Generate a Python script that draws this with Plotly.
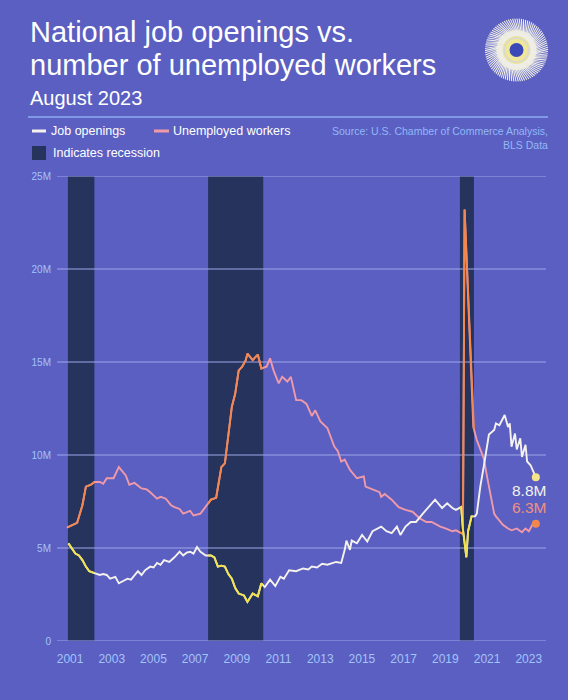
import numpy as np
import pandas as pd
import plotly.graph_objects as go

# ---------------- data ----------------
jo_dates = ["2001-03", "2001-05", "2001-07", "2001-09", "2001-11", "2002-01", "2002-03", "2002-06", "2002-09", "2002-11",
            "2003-01", "2003-03", "2003-06", "2003-08", "2003-10", "2004-01", "2004-03", "2004-05", "2004-07", "2004-09",
            "2004-11", "2005-02", "2005-04", "2005-06", "2005-08", "2005-10", "2006-01", "2006-04", "2006-07", "2006-09",
            "2006-11", "2007-01", "2007-03", "2007-05", "2007-07", "2007-10", "2008-01", "2008-03", "2008-05", "2008-07",
            "2008-09", "2008-11", "2009-01", "2009-03", "2009-05", "2009-08", "2009-10", "2010-01", "2010-04", "2010-06",
            "2010-08", "2010-11", "2011-02", "2011-05", "2011-07", "2011-10", "2012-02", "2012-06", "2012-09", "2012-11",
            "2013-02", "2013-05", "2013-08", "2014-01", "2014-04", "2014-06", "2014-07", "2014-09", "2014-10", "2015-01",
            "2015-04", "2015-07", "2015-10", "2016-03", "2016-06", "2016-09", "2016-12", "2017-02", "2017-05", "2017-08",
            "2017-11", "2018-03", "2018-07", "2018-10", "2019-02", "2019-05", "2019-08", "2019-10", "2020-01", "2020-02",
            "2020-04", "2020-05", "2020-07", "2020-09", "2020-10", "2020-12", "2021-02", "2021-04", "2021-05", "2021-08",
            "2021-09", "2021-11", "2022-02", "2022-04", "2022-05", "2022-06", "2022-08", "2022-09", "2022-11", "2022-12",
            "2023-02", "2023-03", "2023-05", "2023-08"]
jo_vals = [5.25, 5.0, 4.7, 4.6, 4.35, 4.0, 3.75, 3.65, 3.55, 3.6,
           3.55, 3.35, 3.45, 3.1, 3.2, 3.35, 3.3, 3.55, 3.75, 3.55,
           3.8, 4.0, 3.95, 4.2, 4.1, 4.35, 4.25, 4.5, 4.8, 4.6,
           4.75, 4.8, 4.7, 5.05, 4.8, 4.6, 4.6, 4.5, 4.0, 4.05,
           4.0, 3.6, 3.35, 2.85, 2.55, 2.45, 2.1, 2.55, 2.4, 3.1,
           2.9, 3.3, 2.95, 3.45, 3.35, 3.8, 3.75, 3.9, 3.85, 4.0,
           3.95, 4.15, 4.1, 4.25, 4.2, 4.9, 5.4, 4.9, 5.4, 5.25,
           5.7, 5.35, 5.9, 6.15, 5.9, 5.8, 6.15, 5.7, 6.15, 6.4,
           6.4, 6.85, 7.3, 7.6, 7.15, 7.4, 7.15, 7.05, 7.2, 6.0,
           4.5, 5.9, 6.7, 6.7, 6.85, 8.3, 9.4, 10.45, 11.1, 11.35,
           11.7, 11.6, 12.15, 11.5, 11.7, 10.45, 11.15, 10.3, 10.9, 9.9,
           10.55, 9.65, 9.45, 8.8]

un_dates = ["2001-02", "2001-08", "2001-11", "2002-01", "2002-04", "2002-06", "2002-09", "2002-11", "2003-01", "2003-05",
            "2003-08", "2003-12", "2004-02", "2004-05", "2004-09", "2004-12", "2005-02", "2005-06", "2005-08", "2005-11",
            "2006-02", "2006-04", "2006-07", "2006-09", "2007-01", "2007-03", "2007-07", "2007-10", "2008-01", "2008-04",
            "2008-07", "2008-09", "2008-11", "2009-01", "2009-03", "2009-05", "2009-07", "2009-09", "2009-10", "2010-01",
            "2010-03", "2010-04", "2010-06", "2010-09", "2010-11", "2011-01", "2011-04", "2011-06", "2011-09", "2011-11",
            "2012-02", "2012-05", "2012-08", "2012-11", "2013-01", "2013-04", "2013-08", "2013-12", "2014-02", "2014-04",
            "2014-06", "2014-09", "2015-01", "2015-05", "2015-06", "2015-09", "2016-02", "2016-03", "2016-05", "2016-09",
            "2017-01", "2017-05", "2017-09", "2018-01", "2018-05", "2018-08", "2019-01", "2019-04", "2019-08", "2019-10",
            "2020-01", "2020-02", "2020-03", "2020-05", "2020-07", "2020-08", "2020-10", "2020-12", "2021-02", "2021-04",
            "2021-06", "2021-08", "2021-09", "2022-01", "2022-04", "2022-06", "2022-09", "2022-12", "2023-02", "2023-04",
            "2023-06", "2023-08"]
un_vals = [6.1, 6.35, 7.3, 8.3, 8.4, 8.55, 8.55, 8.45, 8.75, 8.75,
           9.35, 8.9, 8.4, 8.5, 8.2, 8.15, 8.0, 7.65, 7.75, 7.65,
           7.3, 7.2, 7.1, 6.85, 7.0, 6.75, 6.85, 7.2, 7.6, 7.7,
           9.35, 9.55, 11.0, 12.6, 13.3, 14.55, 14.75, 15.1, 15.45, 15.1,
           15.3, 15.4, 14.65, 14.75, 15.2, 14.55, 13.85, 14.2, 13.95, 14.2,
           12.95, 12.95, 12.75, 12.1, 12.4, 11.8, 11.45, 10.45, 10.2, 9.65,
           9.75, 9.2, 8.75, 8.85, 8.3, 8.2, 8.0, 7.75, 7.9, 7.6,
           7.2, 7.05, 6.95, 6.6, 6.4, 6.4, 6.15, 6.05, 5.9, 5.95,
           5.8, 5.75, 23.2, 18.7, 14.6, 11.5, 10.8, 10.25, 9.8, 8.8,
           7.75, 6.85, 6.7, 6.25, 6.05, 5.95, 6.05, 5.85, 6.05, 5.9,
           6.25, 6.3]

recession_start = ["2001-02-20", "2007-11-12", "2019-12-10"]
recession_end = ["2002-05-30", "2010-07-05", "2020-08-12"]

year_ticks = list(range(2001, 2024, 2))
y_ticks = [0, 5, 10, 15, 20, 25]
y_tick_text = ["0", "5M", "10M", "15M", "20M", "25M"]

last_jo_label = "8.8M"
last_un_label = "6.3M"

# ---------------- styling ----------------
BG = "#5a5fc1"
REC = "#26345d"
GRID = "#9ea8ea"
TICK = "#a3c4fb"
WHITE = "#f5f2ee"
YELLOW = "#f2e24c"
PINK = "#f09aa9"
ORANGE = "#f4874e"
FONT = "Liberation Sans, Arial, sans-serif"

X_RANGE = ["2000-08-13", "2024-01-26"]

W, H = 568, 700
ML, MR, MT, MB = 57, 22, 176, 59
PW, PH = W - ML - MR, H - MT - MB


def px(x):
    return (x - ML) / PW


def py(y):
    return (H - MB - y) / PH


def clip(dates, vals, s, e):
    t = pd.to_datetime(dates).values.astype("int64").astype(float)
    v = np.asarray(vals, dtype=float)
    ts, te = float(pd.Timestamp(s).value), float(pd.Timestamp(e).value)
    lo, hi = max(ts, t[0]), min(te, t[-1])
    if lo >= hi:
        return [], []
    mask = (t > lo) & (t < hi)
    tt = np.concatenate([[lo], t[mask], [hi]])
    vv = np.interp(tt, t, v)
    return pd.to_datetime(tt.astype("int64")), vv


fig = go.Figure()

# recession bands as filled traces (drawn first)
for s, e in zip(recession_start, recession_end):
    fig.add_trace(go.Scatter(x=[s, s, e, e, s], y=[y_ticks[0], y_ticks[-1], y_ticks[-1], y_ticks[0], y_ticks[0]],
                             mode="lines", fill="toself", fillcolor=REC, line=dict(width=0, color=REC),
                             hoverinfo="skip"))

# horizontal gridlines, drawn over the bands
for v in y_ticks:
    fig.add_trace(go.Scatter(x=X_RANGE, y=[v, v], mode="lines", line=dict(color=GRID, width=1),
                             hoverinfo="skip"))

# base lines
fig.add_trace(go.Scatter(x=pd.to_datetime(un_dates), y=un_vals, mode="lines",
                         line=dict(color=PINK, width=1.9), hoverinfo="skip"))
fig.add_trace(go.Scatter(x=pd.to_datetime(jo_dates), y=jo_vals, mode="lines",
                         line=dict(color=WHITE, width=1.9), hoverinfo="skip"))

# recession-coloured segments
for s, e in zip(recession_start, recession_end):
    xd, yd = clip(un_dates, un_vals, s, e)
    if len(xd):
        fig.add_trace(go.Scatter(x=xd, y=yd, mode="lines", line=dict(color=ORANGE, width=1.9), hoverinfo="skip"))
    xd, yd = clip(jo_dates, jo_vals, s, e)
    if len(xd):
        fig.add_trace(go.Scatter(x=xd, y=yd, mode="lines", line=dict(color=YELLOW, width=1.9), hoverinfo="skip"))

# end markers
fig.add_trace(go.Scatter(x=[pd.to_datetime(jo_dates[-1])], y=[jo_vals[-1]], mode="markers",
                         marker=dict(color="#f4e48a", size=8), hoverinfo="skip"))
fig.add_trace(go.Scatter(x=[pd.to_datetime(un_dates[-1])], y=[un_vals[-1]], mode="markers",
                         marker=dict(color=ORANGE, size=8), hoverinfo="skip"))

shapes = []
# header separator
shapes.append(dict(type="line", xref="paper", yref="paper", x0=px(28), x1=px(548), y0=py(117), y1=py(117),
                   line=dict(color="#8cacef", width=1.3)))
# legend keys
shapes.append(dict(type="line", xref="paper", yref="paper", x0=px(32), x1=px(46), y0=py(131), y1=py(131),
                   line=dict(color=WHITE, width=3)))
shapes.append(dict(type="line", xref="paper", yref="paper", x0=px(154), x1=px(169), y0=py(131), y1=py(131),
                   line=dict(color=PINK, width=3)))
shapes.append(dict(type="rect", xref="paper", yref="paper", x0=px(32), x1=px(46), y0=py(160), y1=py(146),
                   fillcolor=REC, line=dict(width=0)))

# logo (decorative sunburst)
cx, cy = 516.5, 50
shapes.append(dict(type="circle", xref="paper", yref="paper", x0=px(cx - 20), x1=px(cx + 20),
                   y0=py(cy + 20), y1=py(cy - 20), fillcolor="#ece594", line=dict(width=0)))
ang = np.deg2rad(np.arange(0, 360, 4))
ray_path = []
for a in ang:
    r0, r1 = 14, 31.5
    x0, y0 = cx + r0 * np.cos(a), cy - r0 * np.sin(a)
    x1, y1 = cx + r1 * np.cos(a + 0.3), cy - r1 * np.sin(a + 0.3)
    ray_path.append(f"M {px(x0):.5f} {py(y0):.5f} L {px(x1):.5f} {py(y1):.5f} ")
shapes.append(dict(type="path", xref="paper", yref="paper", path="".join(ray_path),
                   line=dict(color="#eeede8", width=1.1)))
shapes.append(dict(type="circle", xref="paper", yref="paper", x0=px(cx - 12), x1=px(cx + 12),
                   y0=py(cy + 12), y1=py(cy - 12), fillcolor="#efe79a", line=dict(color="#d9d8d2", width=1.5)))
shapes.append(dict(type="circle", xref="paper", yref="paper", x0=px(cx - 7), x1=px(cx + 7),
                   y0=py(cy + 7), y1=py(cy - 7), fillcolor="#3b49b8", line=dict(width=0)))

annotations = [
    dict(text="National job openings vs.", x=px(28), y=py(32), xanchor="left", yanchor="middle",
         font=dict(size=29, color="#ffffff", family=FONT)),
    dict(text="number of unemployed workers", x=px(28), y=py(65), xanchor="left", yanchor="middle",
         font=dict(size=29, color="#ffffff", family=FONT)),
    dict(text="August 2023", x=px(28), y=py(98), xanchor="left", yanchor="middle",
         font=dict(size=20, color="#ffffff", family=FONT)),
    dict(text="Job openings", x=px(49), y=py(131), xanchor="left", yanchor="middle",
         font=dict(size=12.5, color="#ffffff", family=FONT)),
    dict(text="Unemployed workers", x=px(171), y=py(131), xanchor="left", yanchor="middle",
         font=dict(size=12.5, color="#ffffff", family=FONT)),
    dict(text="Indicates recession", x=px(51), y=py(153), xanchor="left", yanchor="middle",
         font=dict(size=12.5, color="#ffffff", family=FONT)),
    dict(text="Source: U.S. Chamber of Commerce Analysis,", x=px(550), y=py(131), xanchor="right",
         yanchor="middle", font=dict(size=10.5, color="#93b8f7", family=FONT)),
    dict(text="BLS Data", x=px(550), y=py(145), xanchor="right", yanchor="middle",
         font=dict(size=10.5, color="#93b8f7", family=FONT)),
    dict(text=last_jo_label, x=px(548), y=py(490), xanchor="right", yanchor="middle",
         font=dict(size=15.5, color=WHITE, family=FONT)),
    dict(text=last_un_label, x=px(548), y=py(507), xanchor="right", yanchor="middle",
         font=dict(size=15.5, color="#f28f82", family=FONT)),
]
for a in annotations:
    a.update(xref="paper", yref="paper", showarrow=False)

fig.update_layout(
    width=W, height=H,
    margin=dict(l=ML, r=MR, t=MT, b=MB, pad=0),
    paper_bgcolor=BG, plot_bgcolor=BG,
    showlegend=False,
    shapes=shapes,
    annotations=annotations,
    font=dict(family=FONT),
    xaxis=dict(
        type="date",
        range=X_RANGE,
        tickvals=[f"{y}-01-01" for y in year_ticks],
        ticktext=[str(y) for y in year_ticks],
        showgrid=False, zeroline=False, showline=False,
        ticks="",
        tickfont=dict(size=12, color=TICK, family=FONT),
        ticklabelstandoff=9, ticklabelshift=5,
    ),
    yaxis=dict(
        range=[0, 25],
        tickvals=y_ticks, ticktext=y_tick_text,
        showgrid=False, zeroline=False, showline=False, ticks="",
        tickfont=dict(size=10, color=TICK, family=FONT),
        ticklabelstandoff=5,
    ),
)

fig.write_html("out.html")
